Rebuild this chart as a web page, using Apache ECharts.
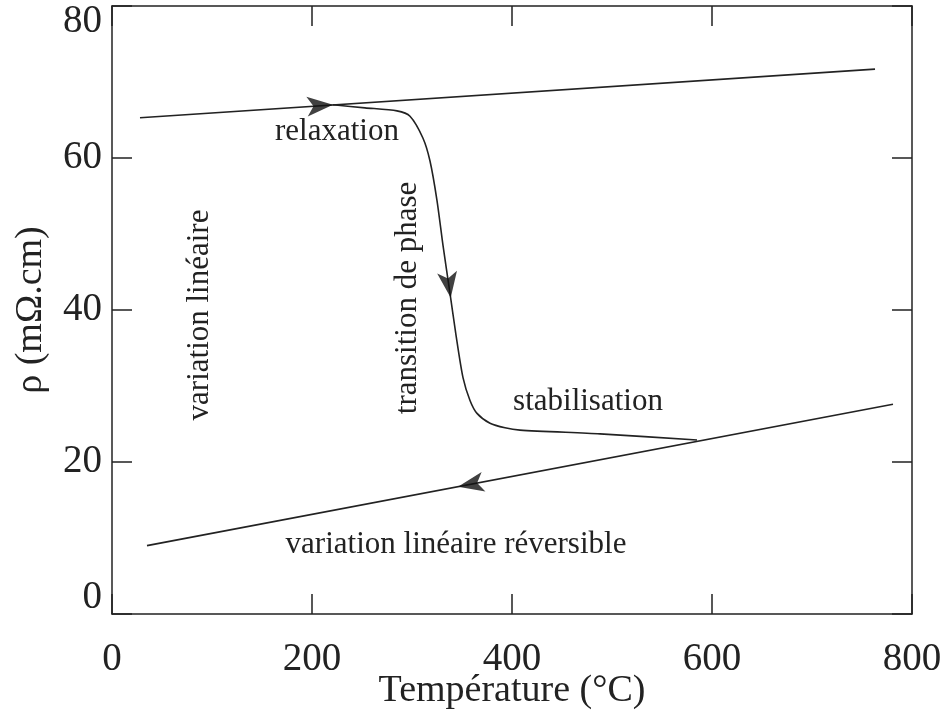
<!DOCTYPE html>
<html>
<head>
<meta charset="utf-8">
<script src="https://cdn.jsdelivr.net/npm/echarts@6/dist/echarts.min.js"></script>
<style>
  html, body { margin: 0; padding: 0; background: #fff; }
  #box { width: 948px; height: 720px; }
</style>
</head>
<body>
<div id="box"></div>
<script>
// ligne du haut (chauffage, variation linéaire)
var heatT = [28, 763];
var heatR = [65.3, 71.7];

// relaxation + transition de phase + stabilisation
var transT = [221, 253, 285, 298, 311, 318, 325, 331, 338, 344, 351, 358, 365, 378, 393, 408, 488, 585];
var transR = [67.0, 66.6, 66.2, 65.5, 62.6, 59.6, 54.4, 48.5, 42.2, 36.7, 31.1, 28.1, 26.4, 25.1, 24.5, 24.2, 23.7, 22.9];

// refroidissement (variation linéaire réversible)
var coolT = [781, 35];
var coolR = [27.6, 9.0];

// flèches
var arrowT = [221, 338.7, 346];
var arrowR = [67.0, 41.6, 16.75];
var arrowRot = [-86, 188, 101];

var xTicks = [0, 200, 400, 600, 800];
var yTicks = [0, 20, 40, 60, 80];

var serif = "Liberation Serif";
var ink = "#222";

function pairs(xs, ys) {
  return xs.map(function (x, i) { return [x, ys[i]]; });
}

var myChart = echarts.init(document.getElementById("box"));

var lineStyle = { color: ink, width: 1.6 };

var baseAxis = {
  axisLine: { show: true, onZero: false, lineStyle: { color: ink, width: 1.5 } },
  axisTick: { show: true, inside: true, length: 20, lineStyle: { color: ink, width: 1.5 } },
  splitLine: { show: false },
};

var option = {
  animation: false,
  backgroundColor: "#fff",
  grid: { left: 112, right: 36, top: 6, bottom: 106, outerBoundsMode: "none", containLabel: false },
  xAxis: [
    Object.assign({}, baseAxis, {
      type: "value",
      min: xTicks[0],
      max: xTicks[xTicks.length - 1],
      interval: 200,
      position: "bottom",
      axisLabel: { fontFamily: serif, fontSize: 39, color: ink, margin: 26 },
      name: "Température (°C)",
      nameLocation: "middle",
      nameGap: 58,
      nameMoveOverlap: false,
      nameTextStyle: { fontFamily: serif, fontSize: 38, color: ink },
    }),
    Object.assign({}, baseAxis, {
      type: "value",
      min: xTicks[0],
      max: xTicks[xTicks.length - 1],
      interval: 200,
      position: "top",
      axisLabel: { show: false },
    }),
  ],
  yAxis: [
    Object.assign({}, baseAxis, {
      type: "value",
      min: yTicks[0],
      max: yTicks[yTicks.length - 1],
      interval: 20,
      position: "left",
      axisLabel: {
        fontFamily: serif, fontSize: 39, color: ink, margin: 10,
        formatter: function (v) {
          if (v === yTicks[yTicks.length - 1]) return "{t|" + v + "}";
          if (v === yTicks[0]) return "{b|" + v + "}";
          return String(v);
        },
        rich: {
          t: { fontFamily: serif, fontSize: 39, color: ink, padding: [32, 0, 0, 0] },
          b: { fontFamily: serif, fontSize: 39, color: ink, padding: [0, 0, 32, 0] },
        },
      },
      name: "ρ (mΩ.cm)",
      nameLocation: "middle",
      nameGap: 62,
      nameTextStyle: { fontFamily: serif, fontSize: 38, color: ink },
    }),
    Object.assign({}, baseAxis, {
      type: "value",
      min: yTicks[0],
      max: yTicks[yTicks.length - 1],
      interval: 20,
      position: "right",
      axisLabel: { show: false },
    }),
  ],
  series: [
    {
      type: "line",
      data: pairs(heatT, heatR),
      showSymbol: false,
      lineStyle: lineStyle,
    },
    {
      type: "line",
      data: pairs(transT, transR),
      smooth: 0.25,
      showSymbol: false,
      lineStyle: lineStyle,
    },
    {
      type: "line",
      data: pairs(coolT, coolR),
      showSymbol: false,
      lineStyle: lineStyle,
    },
    {
      type: "scatter",
      data: arrowT.map(function (t, i) {
        return { value: [t, arrowR[i]], symbolRotate: arrowRot[i] };
      }),
      symbol: "arrow",
      symbolSize: [15, 26],
      itemStyle: { color: "#111" },
      z: 5,
    },
  ],
  graphic: [
    { type: "text", x: 337, y: 132, style: { text: "relaxation", font: "31px " + serif, fill: ink, textAlign: "center", textVerticalAlign: "middle" } },
    { type: "text", x: 408, y: 298, rotation: Math.PI / 2, style: { text: "transition de phase", font: "31px " + serif, fill: ink, textAlign: "center", textVerticalAlign: "middle" } },
    { type: "text", x: 200, y: 315, rotation: Math.PI / 2, style: { text: "variation linéaire", font: "31px " + serif, fill: ink, textAlign: "center", textVerticalAlign: "middle" } },
    { type: "text", x: 588, y: 402, style: { text: "stabilisation", font: "31px " + serif, fill: ink, textAlign: "center", textVerticalAlign: "middle" } },
    { type: "text", x: 456, y: 545, style: { text: "variation linéaire réversible", font: "31px " + serif, fill: ink, textAlign: "center", textVerticalAlign: "middle" } },
  ],
};

myChart.setOption(option);
</script>
</body>
</html>
